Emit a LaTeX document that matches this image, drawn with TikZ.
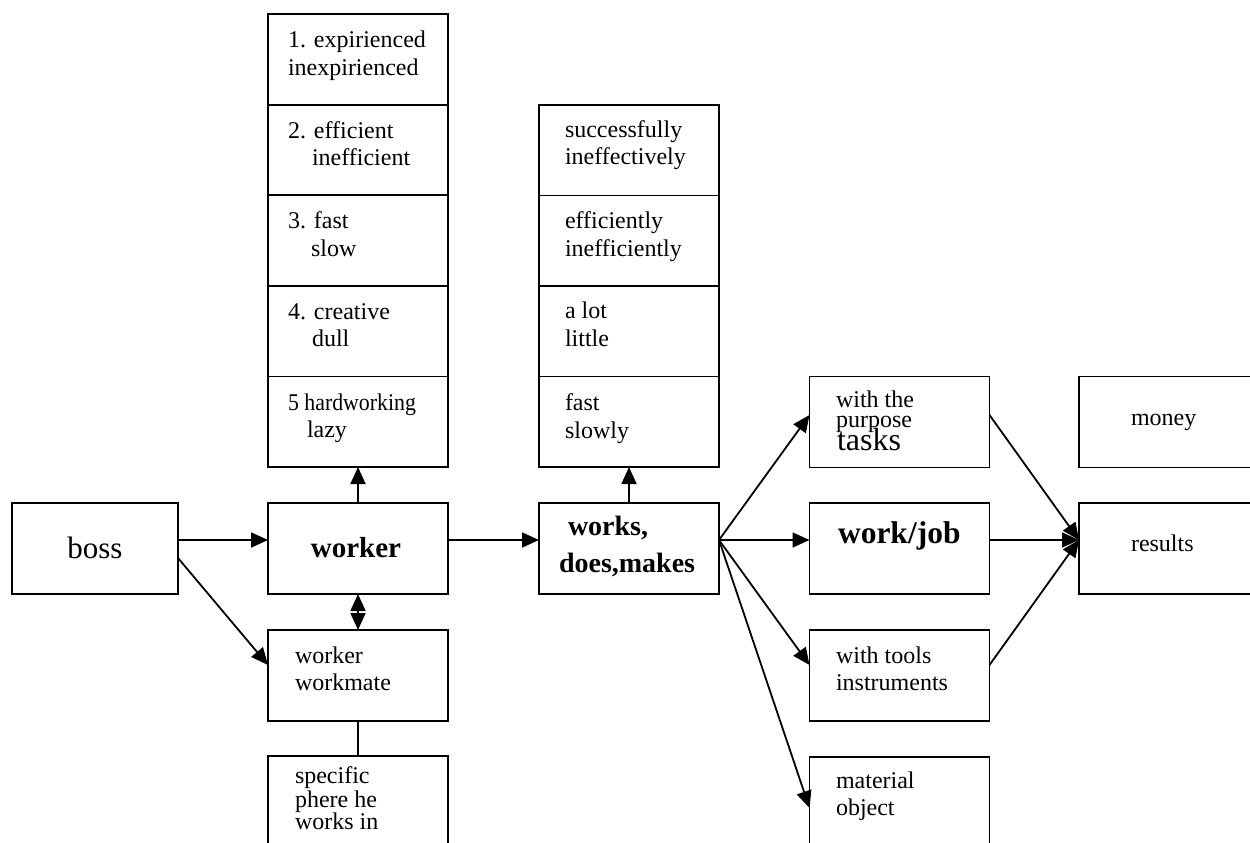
\documentclass[tikz,border=0pt]{standalone}
\usepackage{fontspec}
\setmainfont{Liberation Serif}
\usetikzlibrary{arrows.meta}
\begin{document}
\begin{tikzpicture}[x=1pt,y=-1pt,
  box/.style={draw, line width=1.8pt, minimum width=180pt, minimum height=91pt, inner sep=0pt, outer sep=0pt},
  sbox/.style={box, minimum height=90.6pt},
  lbl/.style={anchor=base west, inner sep=0pt, outer sep=0pt, font=\fontsize{24}{28}\selectfont},
  conn/.style={line width=1.8pt, -{Triangle[length=17pt,width=15pt]}},
  dconn/.style={line width=1.8pt, {Triangle[length=17pt,width=15pt]}-{Triangle[length=17pt,width=15pt]}},
  plain/.style={line width=1.8pt}]
\useasboundingbox (0,0) rectangle (1250,843);
\clip (0,0) rectangle (1250,843);
\fill[white] (0,0) rectangle (1250,843);
% left stack
\node[sbox] (a1) at (358,59.3) {};
\node[sbox] (a2) at (358,149.9) {};
\node[sbox] (a3) at (358,240.5) {};
\node[sbox] (a4) at (358,331.1) {};
\node[sbox] (a5) at (358,421.7) {};
\node[lbl] (ta1) at (288,48) {1. expirienced};
\node[lbl] (ta1b) at (288,76) {inexpirienced};
\node[lbl] (ta2) at (288,138) {2. efficient};
\node[lbl] (ta2b) at (312,165) {inefficient};
\node[lbl] (ta3) at (288,228) {3. fast};
\node[lbl] (ta3b) at (311,256) {slow};
\node[lbl] (ta4) at (288,319) {4. creative};
\node[lbl] (ta4b) at (312,346) {dull};
\node[lbl] (ta5) at (288,410) {\scalebox{0.91}[1]{5 hardworking}};
\node[lbl] (ta5b) at (307,437) {lazy};
% middle stack
\node[sbox] (m1) at (629,150.25) {};
\node[sbox] (m2) at (629,240.75) {};
\node[sbox] (m3) at (629,331.25) {};
\node[sbox] (m4) at (629,421.75) {};
\node[lbl] (tm1) at (565,137) {successfully};
\node[lbl] (tm1b) at (565,164) {ineffectively};
\node[lbl] (tm2) at (565,228) {efficiently};
\node[lbl] (tm2b) at (565,256) {inefficiently};
\node[lbl] (tm3) at (565,318) {a lot};
\node[lbl] (tm3b) at (565,346) {little};
\node[lbl] (tm4) at (565,410) {fast};
\node[lbl] (tm4b) at (565,438) {slowly};
% main row
\node[box, minimum width=166pt] (boss) at (95,548.5) {};
\node[lbl, anchor=base] (tboss) at (95,558) {\fontsize{31}{34}\selectfont boss};
\node[box] (worker) at (358,548.5) {};
\node[lbl, anchor=base] (tworker) at (356,557) {\fontsize{29}{32}\selectfont\bfseries worker};
\node[box] (workmate) at (358,675.5) {};
\node[lbl] (twm1) at (295,663) {worker};
\node[lbl] (twm2) at (295,690) {workmate};
\node[box] (specific) at (358,801.5) {};
\node[lbl] (tsp1) at (295,783) {specific};
\node[lbl] (tsp2) at (295,807) {phere he};
\node[lbl] (tsp3) at (295,829) {works in};
\node[box] (works) at (629,548.5) {};
\node[lbl] (tw1) at (568,535) {\fontsize{28}{32}\selectfont\bfseries works,};
\node[lbl] (tw2) at (559,572) {\fontsize{28}{32}\selectfont\bfseries does,makes};
% right columns
\node[box] (purpose) at (899.5,422) {};
\node[lbl] (tp1) at (836,407) {with the};
\node[lbl] (tp2) at (836,427) {purpose};
\node[lbl] (tp3) at (837,450) {\fontsize{32}{34}\selectfont tasks};
\node[box] (workjob) at (899.5,548.5) {};
\node[lbl] (tj) at (838,543) {\fontsize{31.5}{34}\selectfont\bfseries work/job};
\node[box] (tools) at (899.5,675.5) {};
\node[lbl] (tt1) at (836,663) {with tools};
\node[lbl] (tt2) at (836,690) {instruments};
\node[box] (material) at (899.5,802.5) {};
\node[lbl] (tmat1) at (836,788) {material};
\node[lbl] (tmat2) at (836,815) {object};
\node[box] (money) at (1169,422) {};
\node[lbl] (tmo) at (1131,425) {money};
\node[box] (results) at (1169,548.5) {};
\node[lbl] (tre) at (1131,551) {results};
% connectors
\draw[conn] ([yshift=8.5pt]boss.east) -- ([yshift=8.5pt]worker.west);
\draw[conn] ([yshift=-9.5pt]boss.east) -- ([yshift=10.5pt]workmate.west);
\draw[conn] (worker.north) -- (a5.south);
\draw[dconn] (worker.south) -- (workmate.north);
\draw[plain] (workmate.south) -- (specific.north);
\draw[conn] ([yshift=8.5pt]worker.east) -- ([yshift=8.5pt]works.west);
\draw[conn] (works.north) -- (m4.south);
\draw[conn] ([yshift=8.5pt]works.east) -- ([yshift=7pt]purpose.west);
\draw[conn] ([yshift=8.5pt]works.east) -- ([yshift=8.5pt]workjob.west);
\draw[conn] ([yshift=8.5pt]works.east) -- ([yshift=10.5pt]tools.west);
\draw[conn] ([yshift=8.5pt]works.east) -- ([yshift=-5.5pt]material.west);
\draw[conn] ([yshift=7pt]purpose.east) -- ([yshift=8.5pt]results.west);
\draw[conn] ([yshift=8.5pt]workjob.east) -- ([yshift=8.5pt]results.west);
\draw[conn] ([yshift=10.5pt]tools.east) -- ([yshift=8.5pt]results.west);
\end{tikzpicture}
\end{document}
